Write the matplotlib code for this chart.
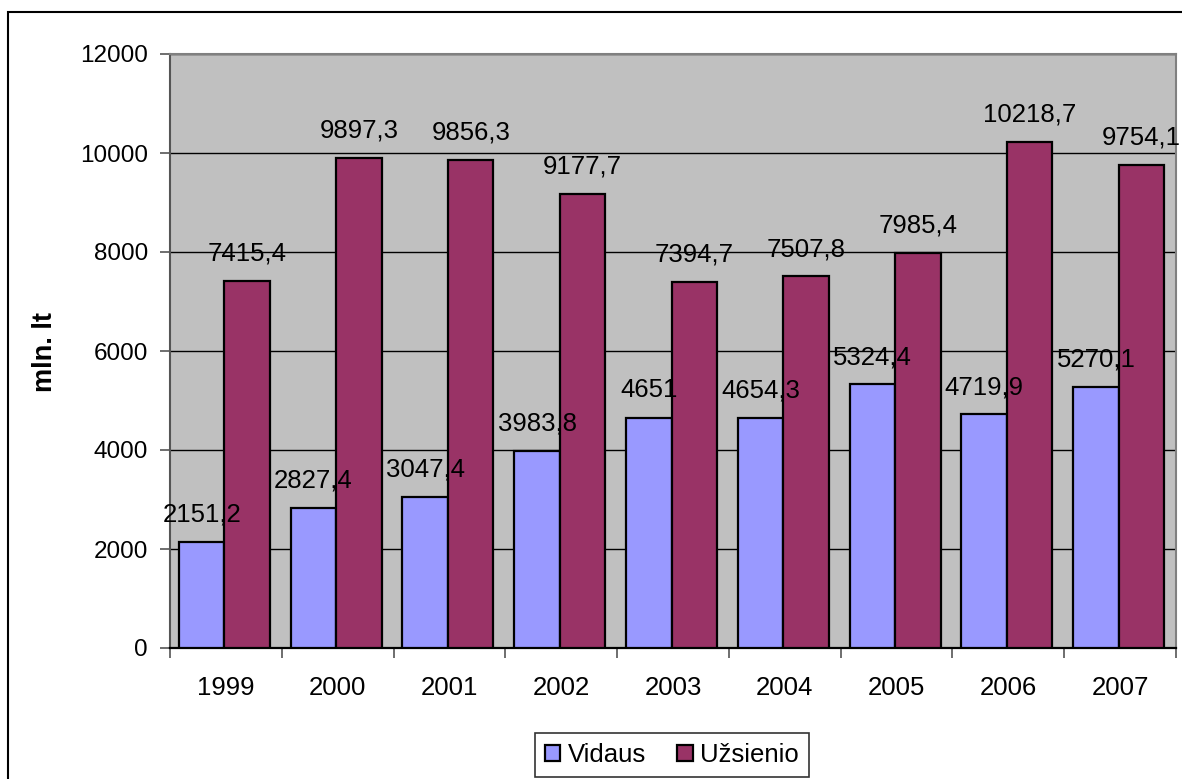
import matplotlib
matplotlib.use("Agg")
import matplotlib.pyplot as plt
import numpy as np
from matplotlib.patches import Rectangle

years = ["1999", "2000", "2001", "2002", "2003", "2004", "2005", "2006", "2007"]
vidaus = [2151.2, 2827.4, 3047.4, 3983.8, 4651, 4654.3, 5324.4, 4719.9, 5270.1]
uzsienio = [7415.4, 9897.3, 9856.3, 9177.7, 7394.7, 7507.8, 7985.4, 10218.7, 9754.1]
series_names = ["Vidaus", "Užsienio"]
ylabel = "mln. lt"

plt.rcParams['font.family'] = ['Liberation Sans', 'DejaVu Sans']

W, H = 1182, 779
fig = plt.figure(figsize=(W / 100, H / 100), dpi=100)
ax = fig.add_axes([170 / W, 1 - 648 / H, (1176 - 170) / W, (648 - 54) / H])
ax.set_facecolor('#C0C0C0')

x = np.arange(len(years))
bw = 0.407
sh = -0.013
c1, c2 = '#9999FF', '#993366'
b1 = ax.bar(x - bw / 2 + sh, vidaus, bw, color=c1, edgecolor='black', linewidth=1.6, zorder=3, label=series_names[0])
b2 = ax.bar(x + bw / 2 + sh, uzsienio, bw, color=c2, edgecolor='black', linewidth=1.6, zorder=3, label=series_names[1])

def fmt(v):
    s = ('%.1f' % v).replace('.', ',')
    if s.endswith(',0'):
        s = s[:-2]
    return s

for rects, vals in ((b1, vidaus), (b2, uzsienio)):
    for r, v in zip(rects, vals):
        ax.annotate(fmt(v), (r.get_x() + r.get_width() / 2, v), xytext=(0, 11),
                    textcoords='offset points', ha='center', va='bottom',
                    fontsize=18.5, zorder=5, clip_on=False)

ax.set_xlim(-0.5, len(years) - 0.5)
ax.set_ylim(0, 12000)
ax.set_yticks(np.arange(0, 12001, 2000))
ax.set_yticklabels([str(v) for v in range(0, 12001, 2000)], fontsize=17.5)
ax.yaxis.grid(True, color='black', linewidth=1.0, zorder=1)
ax.set_axisbelow(True)

ax.set_xticks(np.arange(-0.5, len(years), 1.0), minor=False)
ax.set_xticklabels([])
ax.set_xticks(x, minor=True)
ax.set_xticklabels(years, minor=True, fontsize=18.5)
ax.tick_params(axis='x', which='minor', length=0, pad=20)
ax.tick_params(axis='x', which='major', length=7, width=1.2, color='#555555', direction='out')
ax.tick_params(axis='y', length=7, width=1.2, color='#555555', direction='out', pad=9)

for s in ('top', 'right'):
    ax.spines[s].set_color('#808080')
    ax.spines[s].set_linewidth(1.5)
ax.spines['left'].set_color('#555555')
ax.spines['left'].set_linewidth(1.5)
ax.spines['bottom'].set_color('black')
ax.spines['bottom'].set_linewidth(1.6)

fig.text(45 / W, 1 - 352 / H, ylabel, rotation=90, fontsize=19.5, fontweight='bold',
         ha='center', va='center')

leg = fig.legend(handles=[b1, b2], labels=series_names, loc='center',
                 bbox_to_anchor=(672 / W, 1 - 755 / H), ncol=2, fontsize=18.5,
                 frameon=True, fancybox=False, edgecolor='black', handlelength=0.6,
                 handleheight=0.6, handletextpad=0.3, columnspacing=1.2, borderpad=0.4)
leg.get_frame().set_linewidth(1.2)

fig.patches.append(Rectangle((8 / W, -0.05), 1.2, 1 - 12 / H + 0.05, transform=fig.transFigure,
                             fill=False, edgecolor='black', linewidth=1.5, clip_on=False))

fig.savefig('out.png', dpi=100)
